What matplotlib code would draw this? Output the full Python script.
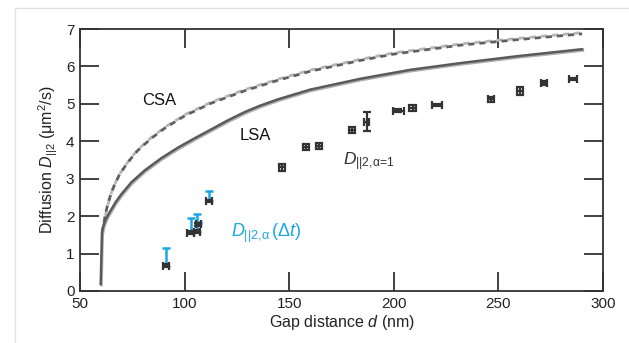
import matplotlib
matplotlib.use('Agg')
import matplotlib.pyplot as plt
import matplotlib.transforms as mtransforms
from matplotlib.lines import Line2D

plt.rcParams['font.family'] = ['Liberation Sans', 'DejaVu Sans']
plt.rcParams['mathtext.fontset'] = 'custom'
plt.rcParams['mathtext.rm'] = 'Liberation Sans'
plt.rcParams['mathtext.it'] = 'Liberation Sans:italic'
plt.rcParams['mathtext.bf'] = 'Liberation Sans:bold'

# theory curves
lsa_d = [59.9, 60.2, 60.5, 61.0, 61.8, 63.0, 65.0, 67.0, 69.7, 74.5, 80.9, 88.9,
         96.8, 104.8, 112.8, 120.7, 128.7, 136.0, 144.6, 160, 184, 208, 232, 260, 290]
lsa_D = [0.19, 0.9, 1.54, 1.70, 1.84, 1.99, 2.18, 2.37, 2.58, 2.90, 3.22, 3.55,
         3.83, 4.08, 4.32, 4.56, 4.78, 4.95, 5.12, 5.38, 5.67, 5.91, 6.09, 6.28, 6.46]

csa_d = [60.5, 61.0, 61.5, 62.3, 63.4, 64.8, 66.6, 68.8, 71.4, 74.5, 77.7, 84.1,
         90.5, 100.0, 112.8, 128.7, 144.6, 160, 184, 200, 232, 260, 290]
csa_D = [1.54, 1.70, 1.84, 2.10, 2.34, 2.60, 2.85, 3.10, 3.32, 3.55, 3.76, 4.08,
         4.35, 4.68, 5.02, 5.35, 5.63, 5.87, 6.16, 6.33, 6.57, 6.72, 6.87]

# measured D_||2,alpha=1 (black)
gap = [91.1, 102.9, 105.8, 106.5, 111.8, 146.4, 157.9, 164.4, 180.0, 187.0,
       202.2, 209.0, 220.8, 246.6, 260.3, 271.8, 285.8]
diff = [0.68, 1.56, 1.58, 1.78, 2.40, 3.30, 3.84, 3.87, 4.30, 4.52,
        4.82, 4.89, 4.97, 5.12, 5.35, 5.55, 5.66]
gap_err = [1.5, 1.8, 1.5, 1.2, 1.5, 1.5, 1.5, 1.5, 1.5, 1.2,
           2.8, 1.5, 2.4, 1.5, 1.5, 1.5, 2.0]
diff_err = [0.03, 0.04, 0.04, 0.04, 0.03, 0.10, 0.08, 0.08, 0.08, 0.25,
            0.03, 0.07, 0.02, 0.07, 0.10, 0.05, 0.03]

# D_||2,alpha(dt) (blue), upper values
blue_gap = [91.1, 102.9, 105.8, 106.5, 111.8]
blue_low = [0.68, 1.56, 1.58, 1.78, 2.40]
blue_top = [1.16, 1.96, 2.07, 1.85, 2.68]

dark = '#333333'
blue = '#1ba6e3'

fig = plt.figure(figsize=(6.29, 3.43), dpi=100)
ax = fig.add_axes([80 / 629, 1 - 291 / 343, 523 / 629, 262 / 343])

shift = mtransforms.offset_copy(ax.transData, fig=fig, x=0.4, y=0.9, units='points')
shift2 = mtransforms.offset_copy(ax.transData, fig=fig, x=0.5, y=-0.9, units='points')

ax.plot(csa_d, csa_D, color='#b5b5b5', lw=2.0, ls=(2, (2.2, 1.8)), transform=shift,
        dash_joinstyle='round')
ax.plot(csa_d, csa_D, color='#606060', lw=2.0, ls=(0, (2.2, 1.8)), dash_joinstyle='round')
ax.plot(lsa_d, lsa_D, color='#b0b0b0', lw=2.0, transform=shift2, solid_joinstyle='round')
ax.plot(lsa_d, lsa_D, color='#5a5a5a', lw=1.8, solid_joinstyle='round')

up = [t - l for t, l in zip(blue_top, blue_low)]
ax.errorbar(blue_gap, blue_low, yerr=[[0] * len(up), up], fmt='none',
            ecolor=blue, elinewidth=1.8, capsize=3, capthick=1.8, zorder=3)
ax.errorbar(gap, diff, xerr=gap_err, yerr=diff_err, fmt='none', ecolor=dark,
            elinewidth=1.6, capsize=2.6, capthick=1.6, zorder=4)

ax.text(88, 5.1, 'CSA', fontsize=12, ha='center', va='center', color='#111111')
ax.text(134, 4.15, 'LSA', fontsize=12, ha='center', va='center', color='#111111')
ax.text(175.5, 3.45, r'$D_{||2{,}\mathrm{\alpha\!=\!1}}$', fontsize=12.5, color=dark,
        ha='left', va='center')
ax.text(122, 1.55, r'$D_{||2{,}\mathrm{\alpha}}\,(\Delta t)$', fontsize=13, color=blue,
        ha='left', va='center')

ax.set_xlim(50, 300)
ax.set_ylim(0, 7)
ax.set_xticks([50, 100, 150, 200, 250, 300])
ax.set_yticks(range(8))
ax.tick_params(direction='in', length=13.5, width=1.3, color=dark, labelsize=11,
               labelcolor='#222222', top=True, right=True, pad=4)
for s in ax.spines.values():
    s.set_color(dark)
    s.set_linewidth(1.3)

ax.set_xlabel(r'Gap distance $d$ (nm)', fontsize=11.5, color='#222222', labelpad=2)
ax.set_ylabel(r'Diffusion $D_{||2}$ ($\mathrm{\mu m^2}$/s)', fontsize=11.5,
              color='#222222', labelpad=4)

# light panel border of the screenshot
fig.add_artist(Line2D([15 / 629, 15 / 629], [0, 1 - 8 / 343], color='#e2e2e2', lw=1))
fig.add_artist(Line2D([15 / 629, 1], [1 - 8 / 343, 1 - 8 / 343], color='#e2e2e2', lw=1))

fig.savefig('out.png', dpi=100)
